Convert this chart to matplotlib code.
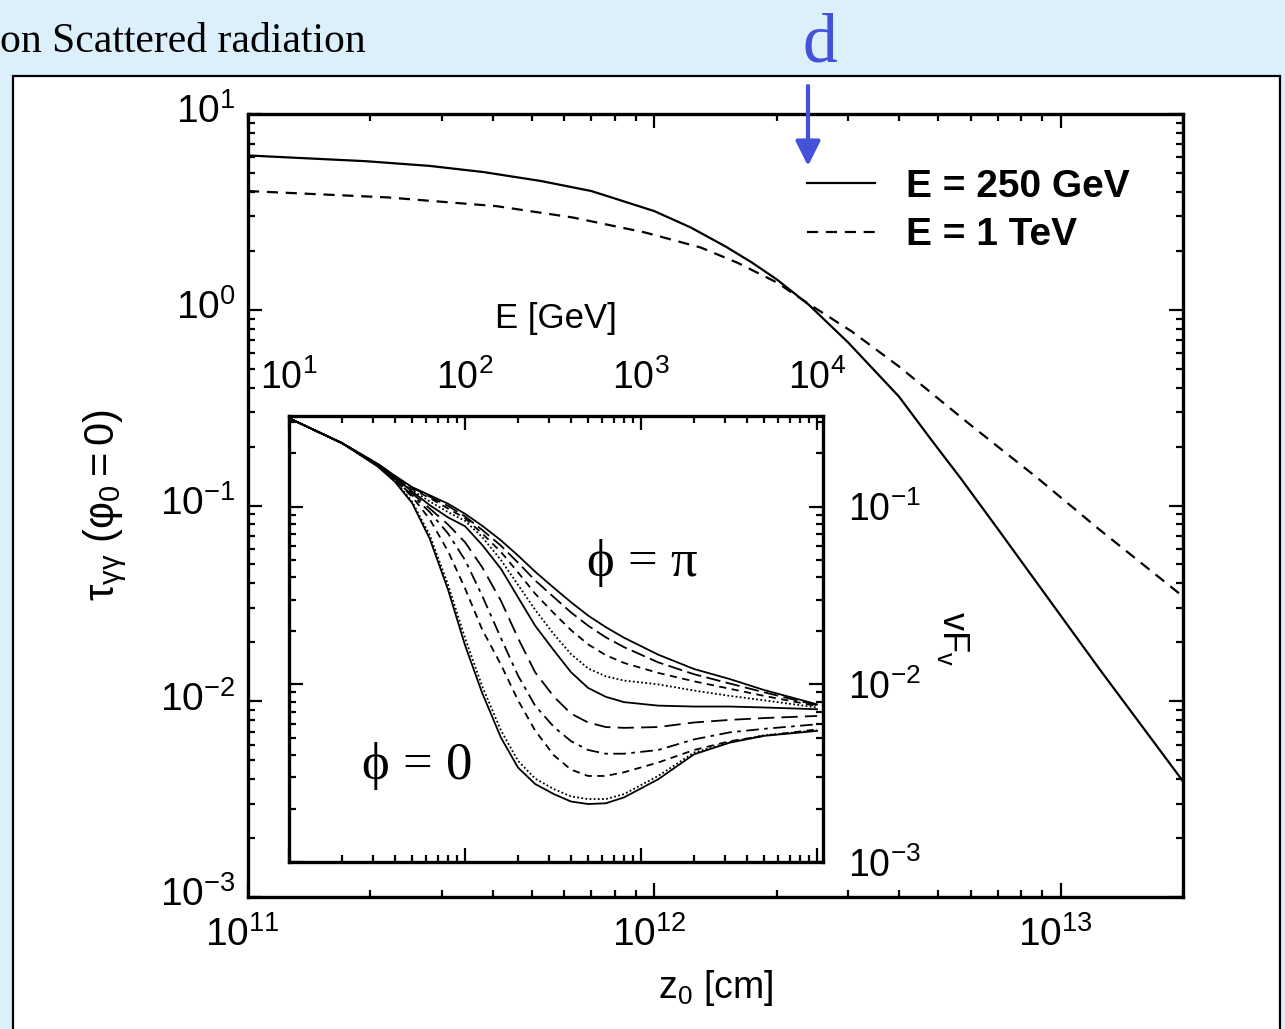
import matplotlib
matplotlib.use("Agg")
import matplotlib.pyplot as plt
import matplotlib.transforms as mtransforms
from matplotlib.patches import Rectangle

plt.rcParams['font.family'] = ['Liberation Sans', 'DejaVu Sans']
plt.rcParams['mathtext.fontset'] = 'custom'
plt.rcParams['mathtext.rm'] = 'Liberation Sans'
plt.rcParams['mathtext.it'] = 'Liberation Sans:italic'

# optical depth vs height z0 [cm]
z_250 = [1.0e11, 1.95e11, 2.8e11, 3.8e11, 5.25e11, 7.0e11, 8.3e11, 1.0e12, 1.23e12, 1.5e12,
         1.74e12, 2.0e12, 2.4e12, 3.0e12, 4.0e12, 4.8e12, 5.7e12, 7.0e12, 1.24e13, 2.0e13]
tau_250 = [6.14, 5.74, 5.43, 5.05, 4.55, 4.04, 3.61, 3.19, 2.63, 2.10,
           1.74, 1.43, 1.06, 0.68, 0.36, 0.217, 0.136, 0.076, 0.0148, 0.0039]
z_1tev = [1.0e11, 2.2e11, 4.1e11, 6.3e11, 9.5e11, 1.3e12, 1.6e12, 2.0e12,
          2.4e12, 3.06e12, 4.0e12, 5.85e12, 7.0e12, 8.7e12, 1.24e13, 2.0e13]
tau_1tev = [4.04, 3.75, 3.38, 2.96, 2.48, 2.08, 1.74, 1.38,
            1.07, 0.775, 0.513, 0.269, 0.20, 0.140, 0.0759, 0.0343]

# inset: spectra for azimuth phi = 0 ... pi
E_gev = [10, 20, 32, 40, 50, 63, 80, 100, 125, 160, 200, 250, 320, 400, 500, 630, 800,
         1250, 2000, 3200, 5000, 10000]
sed_phi0 = [0.315, 0.228, 0.168, 0.138, 0.105, 0.0661, 0.0342, 0.0166, 0.00897, 0.00501, 0.00340, 0.00275, 0.00241, 0.00219, 0.00212, 0.00214, 0.00231, 0.00292, 0.00404, 0.00470, 0.00513, 0.00547]
sed_phi1 = [0.315, 0.228, 0.169, 0.140, 0.107, 0.0692, 0.0365, 0.0182, 0.00979, 0.00550, 0.00371, 0.00295, 0.00257, 0.00234, 0.00226, 0.00226, 0.00241, 0.00305, 0.00413, 0.00474, 0.00517, 0.00551]
sed_phi2 = [0.315, 0.228, 0.170, 0.141, 0.114, 0.0851, 0.0562, 0.0347, 0.0204, 0.0129, 0.00813, 0.00550, 0.00398, 0.00331, 0.00305, 0.00305, 0.00320, 0.00363, 0.00427, 0.00479, 0.00513, 0.00558]
sed_phi3 = [0.315, 0.228, 0.171, 0.142, 0.116, 0.0933, 0.0708, 0.0501, 0.0316, 0.0182, 0.0112, 0.00759, 0.00575, 0.00479, 0.00427, 0.00407, 0.00407, 0.00427, 0.00490, 0.00537, 0.00562, 0.00596]
sed_phi4 = [0.315, 0.228, 0.172, 0.143, 0.119, 0.0977, 0.0794, 0.0631, 0.0457, 0.0295, 0.0182, 0.0117, 0.00851, 0.00684, 0.00610, 0.00575, 0.00569, 0.00575, 0.00610, 0.00631, 0.00646, 0.00664]
sed_phi5 = [0.315, 0.228, 0.172, 0.145, 0.122, 0.102, 0.0871, 0.0776, 0.0610, 0.0447, 0.0309, 0.0214, 0.0155, 0.0117, 0.00955, 0.00851, 0.00794, 0.00759, 0.00750, 0.00750, 0.00741, 0.00724]
sed_phi6 = [0.315, 0.228, 0.173, 0.146, 0.124, 0.107, 0.0933, 0.0832, 0.0676, 0.0501, 0.0363, 0.0263, 0.0191, 0.0148, 0.0123, 0.0111, 0.0105, 0.0100, 0.00923, 0.00861, 0.00813, 0.00741]
sed_phi7 = [0.315, 0.228, 0.173, 0.148, 0.126, 0.112, 0.0977, 0.0861, 0.0708, 0.0556, 0.0427, 0.0324, 0.0251, 0.0202, 0.0168, 0.0146, 0.0132, 0.0116, 0.0104, 0.00944, 0.00861, 0.00755]
sed_phi8 = [0.315, 0.228, 0.174, 0.149, 0.128, 0.114, 0.101, 0.0881, 0.0741, 0.0603, 0.0484, 0.0385, 0.0309, 0.0254, 0.0214, 0.0184, 0.0162, 0.0133, 0.0114, 0.0101, 0.00902, 0.00762]
sed_phi9 = [0.315, 0.228, 0.174, 0.149, 0.129, 0.116, 0.104, 0.0912, 0.0782, 0.0646, 0.0531, 0.0431, 0.0349, 0.0290, 0.0244, 0.0210, 0.0183, 0.0147, 0.0122, 0.0107, 0.00929, 0.00772]

W, H = 1285, 1029
fig = plt.figure(figsize=(W / 100, H / 100), dpi=100, facecolor='#dcf0fc')

# white slide panel, kept behind the axes
fig.patches.append(Rectangle((13 / W, -0.02), (1280 - 13) / W, (H - 76) / H + 0.02,
                             transform=fig.transFigure, fc='white', ec='black', lw=1.6, zorder=-5))
fig.text(0.0, 1 - 52 / H, 'on Scattered radiation', family='Liberation Serif',
         fontsize=30, va='baseline', ha='left')
fig.text(820 / W, 1 - 62 / H, 'd', family='Liberation Serif', fontsize=50,
         color='#4352d8', va='baseline', ha='center')

def px(x0, y0, x1, y1):
    return [x0 / W, 1 - y1 / H, (x1 - x0) / W, (y1 - y0) / H]

def nudge(labels, dx, dy):
    # shift tick labels by a few points
    off = mtransforms.ScaledTranslation(dx / 72, dy / 72, fig.dpi_scale_trans)
    for lab in labels:
        lab.set_transform(lab.get_transform() + off)

tick_kw = dict(which='both', direction='in', top=True, right=True, width=1.6)

ax = fig.add_axes(px(248, 114, 1183, 897))
ax.set_xscale('log')
ax.set_yscale('log')
ax.plot(z_250, tau_250, 'k-', lw=1.6, label='E = 250 GeV')
ax.plot(z_1tev, tau_1tev, 'k--', lw=1.6, dashes=(5, 3.5), label='E = 1 TeV')
ax.set_xlim(1e11, 2e13)
ax.set_ylim(1e-3, 10)
for s in ax.spines.values():
    s.set_linewidth(2.4)
ax.tick_params(**tick_kw, labelsize=28, pad=9)
ax.tick_params(axis='x', pad=14)
ax.tick_params(which='major', length=10)
ax.tick_params(which='minor', length=5)
ax.set_xlabel(r'$\mathregular{z_0}$ [cm]', fontsize=27, labelpad=10)
ax.set_ylabel(r'$\mathregular{τ_{γγ}\ (φ_0 = 0)}$', fontsize=30, labelpad=22)
ax.legend(loc='upper left', bbox_to_anchor=(0.598, 0.93), frameon=False,
          prop={'weight': 'bold', 'size': 28}, handlelength=1.75,
          handletextpad=0.78, labelspacing=0.32, borderpad=0, borderaxespad=0)
fig.canvas.draw()
nudge(ax.get_yticklabels(), 0, 4)
nudge(ax.get_xticklabels(), -4, 0)

ax.annotate('', xy=(808 / W, 1 - 166 / H), xytext=(808 / W, 1 - 86 / H),
            xycoords='figure fraction',
            arrowprops=dict(arrowstyle='-|>,head_length=1.5,head_width=0.75',
                            color='#4352d8', lw=3, shrinkA=0, shrinkB=0))

ins = fig.add_axes(px(289, 416, 823, 862))
ins.set_xscale('log')
ins.set_yscale('log')
curves = [sed_phi0, sed_phi1, sed_phi2, sed_phi3, sed_phi4,
          sed_phi5, sed_phi6, sed_phi7, sed_phi8, sed_phi9]
styles = ['-', (0, (1, 1.3)), (0, (4, 3)), (0, (7, 3, 2, 3)), (0, (9, 4)),
          '-', (0, (1, 1.3)), (0, (4, 3)), (0, (8, 3)), '-']
for sed, ls in zip(curves, styles):
    ins.plot(E_gev, sed, color='k', ls=ls, lw=1.3)
ins.set_xlim(10, 1.08e4)
ins.set_ylim(1e-3, 0.324)
for s in ins.spines.values():
    s.set_linewidth(2.4)
ins.tick_params(**tick_kw, labelsize=27, labelbottom=False, labelleft=False,
                labeltop=True, labelright=True)
ins.tick_params(axis='x', pad=14)
ins.tick_params(axis='y', pad=18)
ins.tick_params(which='major', length=10)
ins.tick_params(which='minor', length=5)
ins.xaxis.set_label_position('top')
ins.set_xlabel('E [GeV]', fontsize=25, labelpad=22)
ins.yaxis.set_label_position('right')
ins.set_ylabel(r'$\mathregular{vF_v}$', fontsize=26, rotation=-90, labelpad=36)

serif = ['Liberation Serif', 'DejaVu Serif']
ins.text(0.661, 0.67, 'ϕ = π', transform=ins.transAxes, family=serif, fontsize=38,
         ha='center', va='center')
ins.text(0.24, 0.215, 'ϕ = 0', transform=ins.transAxes, family=serif, fontsize=38,
         ha='center', va='center')

fig.savefig('out.png', dpi=100, facecolor=fig.get_facecolor())
